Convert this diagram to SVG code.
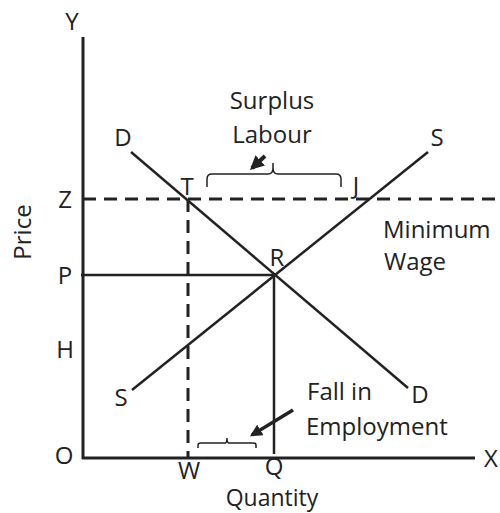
<svg xmlns="http://www.w3.org/2000/svg" width="500" height="513" viewBox="0 0 500 513">
<defs>
<style>
text{font-family:"Open Sans","DejaVu Sans",sans-serif;font-size:24px;fill:#222;}
.ln{stroke:#222;stroke-width:3;fill:none;}
.th{stroke:#222;stroke-width:2.5;fill:none;}
.ds{stroke:#222;stroke-width:3;fill:none;stroke-dasharray:13 8;}
.br{stroke:#222;stroke-width:1.5;fill:none;}
</style>
<marker id="ah" viewBox="0 0 10 10" refX="8" refY="5" markerWidth="3.5" markerHeight="3.5" orient="auto"><path d="M0,0 L10,5 L0,10 z" fill="#222"/></marker>
</defs>
<rect width="500" height="513" fill="#fff"/>
<g id="connectors">
<line id="y-axis" class="ln" x1="83" y1="37" x2="83" y2="459"/>
<line id="x-axis" class="ln" x1="82" y1="458" x2="475" y2="458"/>
<line id="min-wage" class="ds" x1="83" y1="199" x2="500" y2="199"/>
<line id="p-line" class="th" x1="81" y1="275" x2="274" y2="275"/>
<line id="w-line" class="ds" x1="188" y1="199" x2="188" y2="458"/>
<line id="q-line" class="th" x1="274" y1="275" x2="274" y2="454"/>
<line id="demand" class="th" x1="131" y1="152" x2="408" y2="388"/>
<line id="supply" class="th" x1="132" y1="390" x2="428" y2="152"/>
<path id="brace-top" class="br" d="M207,187 V179 Q207,174 212,174 H268 Q273,174 273,168 V163 V168 Q273,174 278,174 H336 Q341,174 341,179 V187"/>
<path id="brace-bottom" class="br" d="M198,448 V445 Q198,443 201,443 H225 Q227,443 227,438 Q227,443 229,443 H253 Q256,443 256,445 V448"/>
<line id="arrow-surplus" stroke="#222" stroke-width="4" x1="265" y1="156" x2="252" y2="168" marker-end="url(#ah)"/>
<line id="arrow-fall" stroke="#222" stroke-width="3.5" x1="293" y1="410" x2="252" y2="435" marker-end="url(#ah)"/>
</g>
<g id="label-Y"><text x="72" y="30" text-anchor="middle">Y</text></g>
<g id="label-X"><text x="484" y="467">X</text></g>
<g id="label-Z"><text x="65" y="208" text-anchor="middle">Z</text></g>
<g id="label-P"><text x="65" y="284" text-anchor="middle">P</text></g>
<g id="label-H"><text x="65" y="358" text-anchor="middle">H</text></g>
<g id="label-O"><text x="64" y="464" text-anchor="middle">O</text></g>
<g id="label-W"><text x="189" y="479" text-anchor="middle">W</text></g>
<g id="label-Q"><text x="274" y="475" text-anchor="middle">Q</text></g>
<g id="label-quantity"><text x="272" y="506" text-anchor="middle" style="font-size:23px">Quantity</text></g>
<g id="label-price"><text transform="translate(31,232) rotate(-90)" text-anchor="middle">Price</text></g>
<g id="label-D1"><text x="123" y="146" text-anchor="middle">D</text></g>
<g id="label-S1"><text x="437" y="146" text-anchor="middle">S</text></g>
<g id="label-T"><text x="187" y="195" text-anchor="middle">T</text></g>
<g id="label-J"><text x="356" y="194" text-anchor="middle">J</text></g>
<g id="label-R"><text x="277" y="266" text-anchor="middle">R</text></g>
<g id="label-S2"><text x="121" y="406" text-anchor="middle">S</text></g>
<g id="label-D2"><text x="420" y="403" text-anchor="middle">D</text></g>
<g id="label-surplus"><text x="272" y="109" text-anchor="middle">Surplus</text><text x="272" y="143" text-anchor="middle">Labour</text></g>
<g id="label-minwage"><text x="383" y="238">Minimum</text><text x="384" y="270">Wage</text></g>
<g id="label-fall"><text x="307" y="400">Fall in</text><text x="306" y="435">Employment</text></g>
</svg>
